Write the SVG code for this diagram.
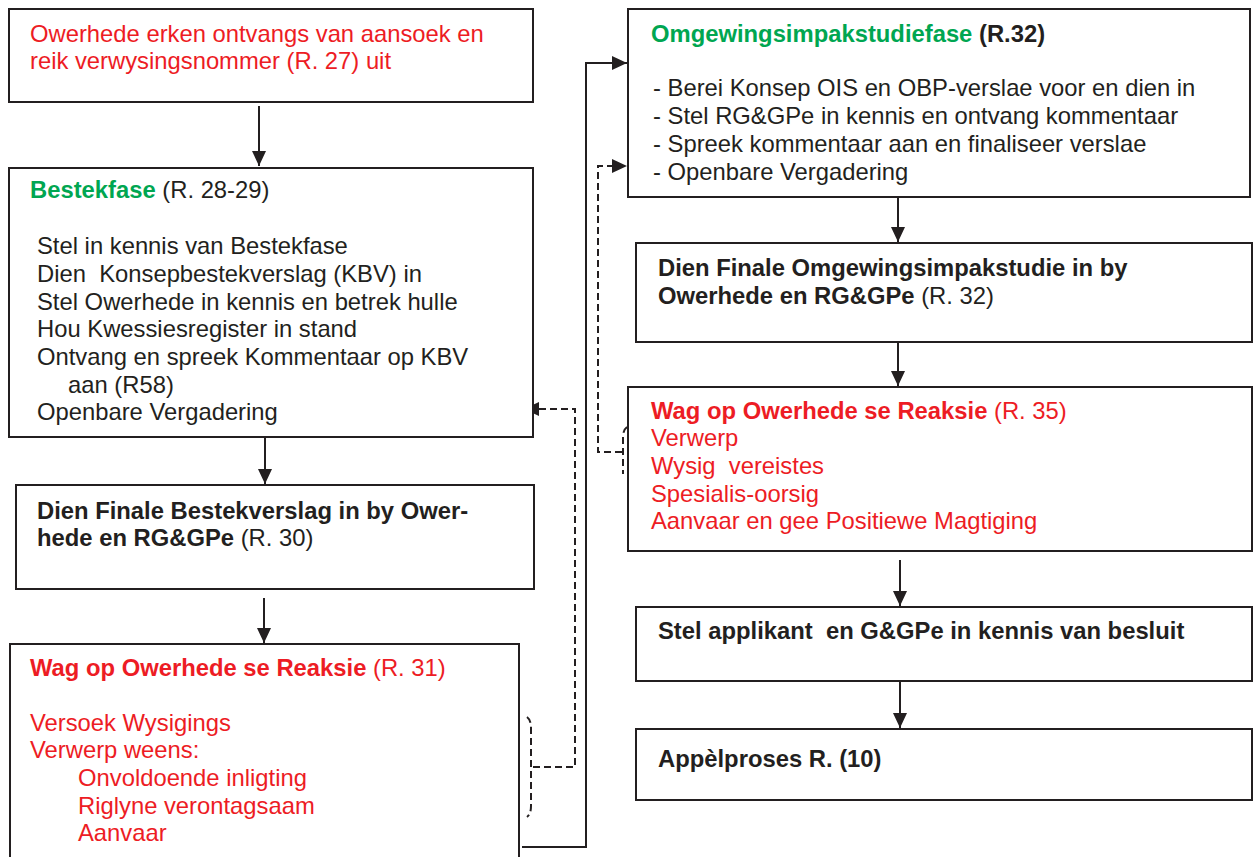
<svg xmlns="http://www.w3.org/2000/svg" width="1255" height="857" viewBox="0 0 1255 857">
<style>
  .box { fill: #ffffff; stroke: #231f20; stroke-width: 2; }
  text { font-family: "Liberation Sans", Arial, sans-serif; font-size: 23.8px; fill: #231f20; white-space: pre; }
  .red { fill: #ed1c24; }
  .green { fill: #00a651; }
  .b { font-weight: bold; }
  .line { fill: none; stroke: #231f20; stroke-width: 2; }
  .dash { fill: none; stroke: #231f20; stroke-width: 2; stroke-dasharray: 7 4; }
</style>
<defs>
  <marker id="arrow" markerUnits="userSpaceOnUse" markerWidth="15" markerHeight="14" refX="15" refY="7" orient="auto">
    <path d="M0,0 L15,7 L0,14 z" fill="#231f20"/>
  </marker>
</defs>
<rect width="1255" height="857" fill="#ffffff"/>

<g id="connectors">
  <line class="line" x1="259" y1="106" x2="259" y2="166" marker-end="url(#arrow)"/>
  <line class="line" x1="265" y1="438" x2="265" y2="484" marker-end="url(#arrow)"/>
  <line class="line" x1="264" y1="598" x2="264" y2="643" marker-end="url(#arrow)"/>
  <polyline class="line" points="522,847 586,847 586,63 627,63" marker-end="url(#arrow)"/>
  <line class="line" x1="898" y1="198" x2="898" y2="242" marker-end="url(#arrow)"/>
  <line class="line" x1="898" y1="342" x2="898" y2="386" marker-end="url(#arrow)"/>
  <line class="line" x1="900" y1="560" x2="900" y2="606" marker-end="url(#arrow)"/>
  <line class="line" x1="900" y1="682" x2="900" y2="728" marker-end="url(#arrow)"/>
  <path class="dash" d="M527,717 Q531,720 531,728 L531,806 Q531,814 527,817"/>
  <polyline class="dash" points="533,767 575,767 575,409 524,409" marker-end="url(#arrow)"/>
  <path class="dash" d="M627,427 Q623,430 623,437 L623,474"/>
  <polyline class="dash" points="622,452 598,452 598,166 627,166" marker-end="url(#arrow)"/>
</g>

<g id="node-erken">
  <rect class="box" x="9" y="9" width="524" height="93"/>
  <text class="red" x="30" y="42">Owerhede erken ontvangs van aansoek en</text>
  <text class="red" x="30" y="69">reik verwysingsnommer (R. 27) uit</text>
</g>

<g id="node-bestekfase">
  <rect class="box" x="9" y="168" width="524" height="269"/>
  <text x="30" y="198"><tspan class="green b">Bestekfase</tspan> (R. 28-29)</text>
  <text x="37" y="254">Stel in kennis van Bestekfase</text>
  <text x="37" y="282">Dien  Konsepbestekverslag (KBV) in</text>
  <text x="37" y="310">Stel Owerhede in kennis en betrek hulle</text>
  <text x="37" y="337">Hou Kwessiesregister in stand</text>
  <text x="37" y="365">Ontvang en spreek Kommentaar op KBV</text>
  <text x="68" y="393">aan (R58)</text>
  <text x="37" y="420">Openbare Vergadering</text>
</g>

<g id="node-finale-bestek">
  <rect class="box" x="16" y="485" width="518" height="104"/>
  <text class="b" x="37" y="519">Dien Finale Bestekverslag in by Ower-</text>
  <text x="37" y="546"><tspan class="b">hede en RG&amp;GPe</tspan> (R. 30)</text>
</g>

<g id="node-reaksie-31">
  <rect class="box" x="10" y="644" width="509" height="240"/>
  <text class="red" x="30" y="676"><tspan class="b">Wag op Owerhede se Reaksie</tspan> (R. 31)</text>
  <text class="red" x="30" y="731">Versoek Wysigings</text>
  <text class="red" x="30" y="758">Verwerp weens:</text>
  <text class="red" x="78" y="786">Onvoldoende inligting</text>
  <text class="red" x="78" y="814">Riglyne verontagsaam</text>
  <text class="red" x="78" y="841">Aanvaar</text>
</g>

<g id="node-ois-fase">
  <rect class="box" x="628" y="9" width="622" height="188"/>
  <text class="b" x="651" y="42"><tspan class="green">Omgewingsimpakstudiefase</tspan> (R.32)</text>
  <text x="653" y="96">- Berei Konsep OIS en OBP-verslae voor en dien in</text>
  <text x="653" y="124">- Stel RG&amp;GPe in kennis en ontvang kommentaar</text>
  <text x="653" y="152">- Spreek kommentaar aan en finaliseer verslae</text>
  <text x="653" y="180">- Openbare Vergadering</text>
</g>

<g id="node-finale-ois">
  <rect class="box" x="636" y="243" width="616" height="99"/>
  <text class="b" x="658" y="276">Dien Finale Omgewingsimpakstudie in by</text>
  <text x="658" y="304"><tspan class="b">Owerhede en RG&amp;GPe</tspan> (R. 32)</text>
</g>

<g id="node-reaksie-35">
  <rect class="box" x="628" y="387" width="624" height="164"/>
  <text class="red" x="651" y="419"><tspan class="b">Wag op Owerhede se Reaksie</tspan> (R. 35)</text>
  <text class="red" x="651" y="446">Verwerp</text>
  <text class="red" x="651" y="474">Wysig  vereistes</text>
  <text class="red" x="651" y="502">Spesialis-oorsig</text>
  <text class="red" x="651" y="529">Aanvaar en gee Positiewe Magtiging</text>
</g>

<g id="node-stel-applikant">
  <rect class="box" x="636" y="607" width="616" height="74"/>
  <text class="b" x="658" y="639">Stel applikant  en G&amp;GPe in kennis van besluit</text>
</g>

<g id="node-appel">
  <rect class="box" x="636" y="729" width="616" height="71"/>
  <text class="b" x="658" y="767">Appèlproses R. (10)</text>
</g>
</svg>
